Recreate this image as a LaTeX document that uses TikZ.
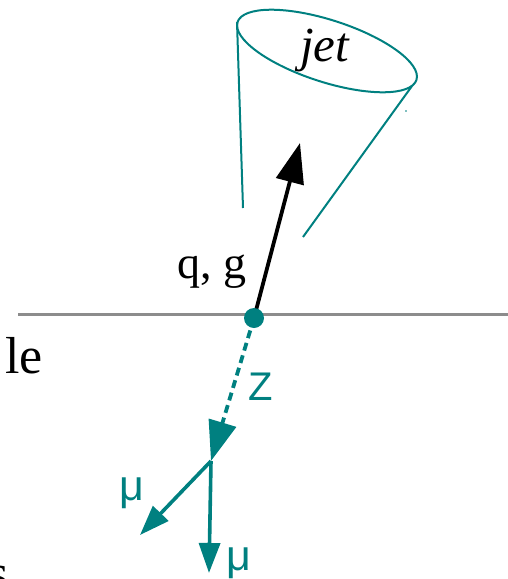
\documentclass[tikz,border=0pt]{standalone}
\usepackage{fontspec}
\setmainfont{Liberation Serif}
\newfontfamily\sansf{Liberation Sans}
\usetikzlibrary{arrows.meta}
\definecolor{tealc}{RGB}{0,128,128}
\definecolor{grayl}{RGB}{140,140,140}
\tikzset{
  txt/.style={inner sep=0pt, outer sep=0pt},
  conel/.style={draw=tealc, line width=2pt},
  bigtip/.style={-{Triangle[length=40pt,width=28pt]}},
  smalltip/.style={-{Triangle[length=30pt,width=21pt]}},
}
\begin{document}
\begin{tikzpicture}[x=1pt,y=-1pt]
\useasboundingbox (0,0) rectangle (508,579);
% horizontal line
\coordinate (hl) at (18,314);
\coordinate (hr) at (508,314);
\draw[grayl, line width=3pt] (hl) -- (hr);
% cone
\draw[conel, rotate around={-17.9:(327,51)}] (327,51) ellipse [x radius=94pt, y radius=31pt];
\coordinate (cl1) at (237,22);
\coordinate (cl2) at (243,208);
\coordinate (cr1) at (412,86);
\coordinate (cr2) at (303,237);
\draw[conel] (cl1) -- (cl2);
\draw[conel] (cr1) -- (cr2);
\fill[tealc] (406,111) circle (0.8pt);
\node[txt, font=\fontsize{49}{52}\selectfont\itshape, anchor=base west] (jet) at (300,61) {jet};
% vertex and arrows
\coordinate (vc) at (254,318);
\coordinate (qtip) at (300,143);
\coordinate (jn) at (211,461);
\coordinate (mu1tip) at (140,535);
\coordinate (mu2tip) at (209,573);
\draw[bigtip, line width=3.8pt, black] (vc) -- (qtip);
\draw[bigtip, line width=3.8pt, tealc, dash pattern=on 8pt off 5pt] (vc) -- (jn);
\draw[smalltip, line width=3.6pt, tealc] (jn) -- (mu1tip);
\draw[smalltip, line width=3.6pt, tealc] (jn) -- (mu2tip);
\node[circle, fill=tealc, minimum size=20pt, inner sep=0pt] (v) at (vc) {};
% labels
\node[txt, font=\fontsize{46}{50}\selectfont, anchor=base west] (qg) at (177,278) {q, g};
\node[txt, font=\fontsize{40}{44}\sansf, text=tealc, anchor=base west] (z) at (248,400) {Z};
\node[txt, font=\fontsize{43}{46}\sansf, text=tealc, anchor=base west] (mu1) at (119,500) {μ};
\node[txt, font=\fontsize{43}{46}\sansf, text=tealc, anchor=base west] (mu2) at (226,570) {μ};
\node[txt, font=\fontsize{52}{56}\selectfont, anchor=base east] (le) at (43,373) {le};
\node[txt, font=\fontsize{52}{56}\selectfont, anchor=base east] (s) at (9,590) {s};
\end{tikzpicture}
\end{document}
